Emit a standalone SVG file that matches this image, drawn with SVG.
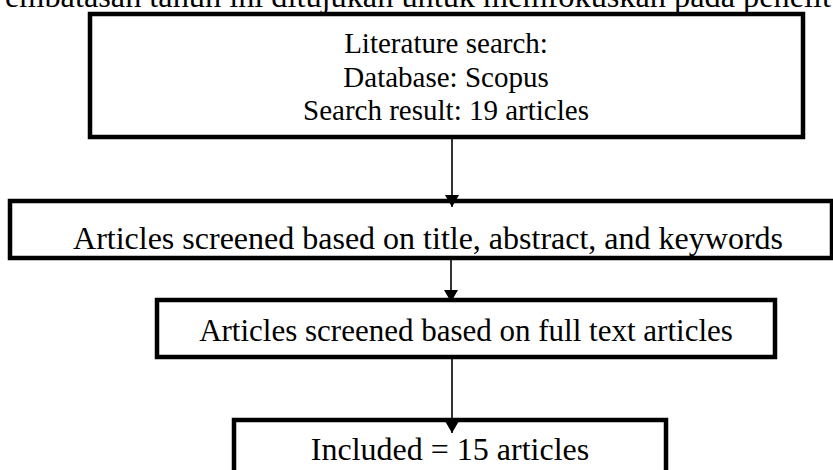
<svg xmlns="http://www.w3.org/2000/svg" width="833" height="470" viewBox="0 0 833 470">
<defs>
<style>
.box{fill:#fff;stroke:#000;stroke-width:4.5}
.t{font-family:"Liberation Serif","Times New Roman",serif;fill:#000;text-anchor:middle}
.c{stroke:#000;stroke-width:1.6;fill:none}
</style>
<marker id="ah" viewBox="0 0 12 14" refX="12" refY="7" markerWidth="12" markerHeight="14" markerUnits="userSpaceOnUse" orient="auto">
<path d="M0,0 L12,7 L0,14 Z" fill="#000"/>
</marker>
</defs>
<rect width="833" height="470" fill="#fff"/>
<text x="5" y="7" font-family="Liberation Serif, serif" font-size="31" fill="#000" textLength="826" lengthAdjust="spacingAndGlyphs">embatasan tahun ini ditujukan untuk memfokuskan pada penelit</text>
<g id="n1">
<rect class="box" x="90" y="14" width="713" height="123"/>
<text class="t" x="446" y="53" font-size="29">Literature search:</text>
<text class="t" x="446" y="87" font-size="29">Database: Scopus</text>
<text class="t" x="446" y="120" font-size="29">Search result: 19 articles</text>
</g>
<g id="n2">
<rect class="box" x="10" y="201" width="822" height="57"/>
<text class="t" x="428" y="249" font-size="32">Articles screened based on title, abstract, and keywords</text>
</g>
<g id="n3">
<rect class="box" x="157" y="300" width="618" height="57"/>
<text class="t" x="466" y="341" font-size="31">Articles screened based on full text articles</text>
</g>
<g id="n4">
<rect class="box" x="234" y="420" width="432" height="80"/>
<text class="t" x="450" y="460" font-size="32">Included = 15 articles</text>
</g>
<g id="connectors">
<line class="c" x1="452" y1="139" x2="452" y2="207" marker-end="url(#ah)"/>
<line class="c" x1="451" y1="260" x2="451" y2="302" marker-end="url(#ah)"/>
<line class="c" x1="452" y1="359" x2="452" y2="433" marker-end="url(#ah)"/>
</g>
</svg>
